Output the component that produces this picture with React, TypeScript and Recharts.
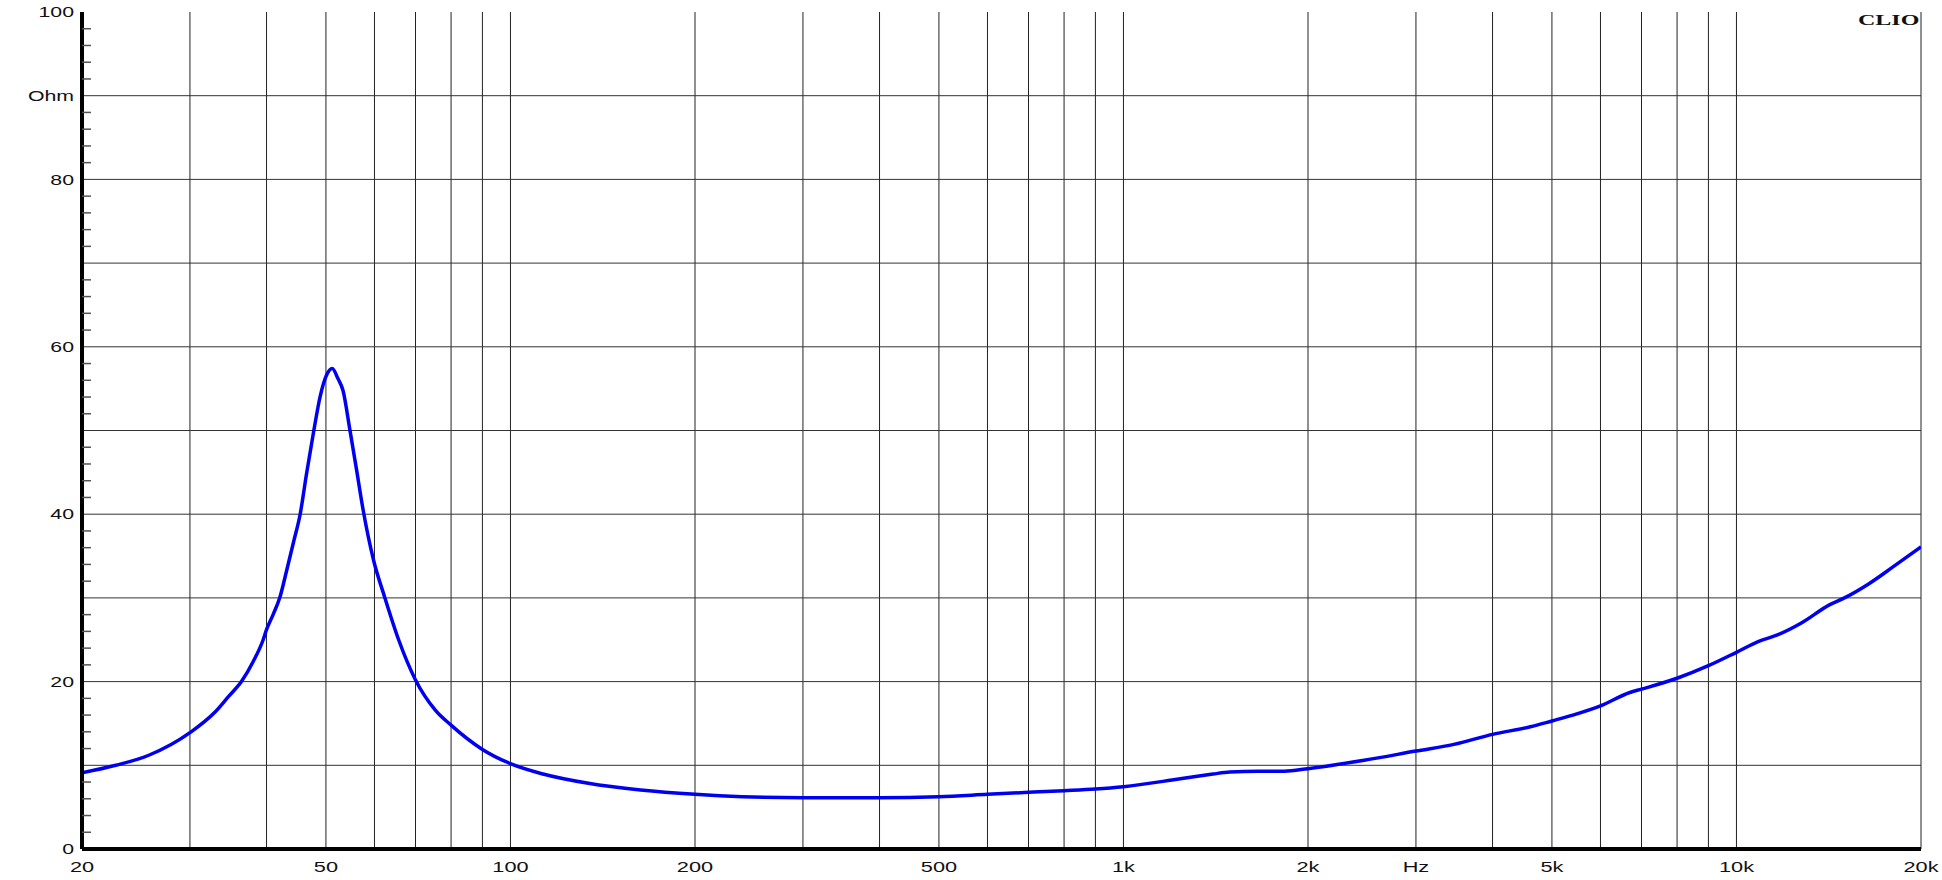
import React from 'react';
import { LineChart, Line, XAxis, YAxis, CartesianGrid, ReferenceLine } from 'recharts';

const freqHz = [
  20, 22.7, 25.7, 30, 33, 34.66, 36.4, 38.05, 39.5, 40, 41, 42.07, 43.15, 44.35, 45.36, 46.5, 47.7, 48.9,
  50.1, 51.2, 52.3, 53.3, 54.7, 56.1, 57.5, 59.8, 62.4, 65.7, 70, 75.4, 80, 90, 100, 113, 134, 163, 200,
  239, 300, 400, 500, 600, 700, 800, 900, 1000, 1200, 1320, 1400, 1490, 1660, 1830, 2000, 2470, 3000,
  3460, 4000, 4610, 5000, 5410, 6000, 6700, 7000, 8000, 9000, 10000, 10870, 11690, 12760, 14200, 15000,
  16450, 18000, 20000,
];
const impedanceOhm = [
  9.1, 10.0, 11.2, 13.9, 16.4, 18.2, 20.0, 22.4, 25.0, 26.2, 28.0, 30.1, 33.3, 36.9, 39.9, 44.9, 49.7, 54.0,
  56.6, 57.4, 56.2, 54.8, 50.1, 45.3, 40.5, 34.5, 30.0, 25.0, 20.2, 16.6, 14.8, 11.9, 10.2, 8.96, 7.85, 7.05, 6.53,
  6.25, 6.13, 6.13, 6.25, 6.53, 6.77, 6.97, 7.17, 7.45, 8.24, 8.7, 8.96, 9.2, 9.3, 9.3, 9.6, 10.6, 11.7,
  12.5, 13.7, 14.6, 15.3, 16.0, 17.1, 18.7, 19.1, 20.4, 21.9, 23.5, 24.8, 25.6, 27.0, 29.2, 30.0,
  31.7, 33.7, 36.1,
];

const xGridTicks = [
  20, 30, 40, 50, 60, 70, 80, 90, 100, 200, 300, 400, 500, 600, 700, 800, 900,
  1000, 2000, 3000, 4000, 5000, 6000, 7000, 8000, 9000, 10000, 20000,
];
const xTickLabels: Record<number, string> = {
  20: '20', 50: '50', 100: '100', 200: '200', 500: '500', 1000: '1k', 2000: '2k',
  3000: 'Hz', 5000: '5k', 10000: '10k', 20000: '20k',
};
const yMinorTicks = Array.from({ length: 51 }, (_, i) => i * 2);
const yGridValues = [10, 20, 30, 40, 50, 60, 70, 80, 90];
const yTickLabels: Record<number, string> = {
  0: '0', 20: '20', 40: '40', 60: '60', 80: '80', 90: 'Ohm', 100: '100',
};
const badge = 'CLIO';

const data = freqHz.map((f, i) => ({ f, z: impedanceOhm[i] }));

const FONT = "'Liberation Sans', Arial, sans-serif";

const LeftTick = (props: any) => {
  const { x, y, payload } = props;
  const v = payload.value as number;
  const label = yTickLabels[v];
  const minor = v % 10 !== 0;
  return (
    <g>
      {minor && <line x1={x} x2={x + 9} y1={y} y2={y} stroke="#555" strokeWidth={1.5} />}
      {label && (
        <g transform={`translate(${x - 8},${y}) scale(1.42,1)`}>
          <text x={0} y={0} textAnchor="end" dominantBaseline="central" fontFamily={FONT} fontSize={15} fill="#111">
            {label}
          </text>
        </g>
      )}
    </g>
  );
};

const RightTick = (props: any) => {
  const { x, y, payload } = props;
  const v = payload.value as number;
  const minor = v % 10 !== 0;
  return (
    <g>
      {minor && <line x1={x} x2={x - 9} y1={y} y2={y} stroke="#555" strokeWidth={1.5} />}
    </g>
  );
};

const BottomTick = (props: any) => {
  const { x, y, payload } = props;
  const label = xTickLabels[payload.value as number];
  if (!label) return <g />;
  return (
    <g transform={`translate(${x},${y + 18}) scale(1.45,1)`}>
      <text x={0} y={0} textAnchor="middle" dominantBaseline="central" fontFamily={FONT} fontSize={15} fill="#111">
        {label}
      </text>
    </g>
  );
};

export default function App() {
  return (
    <div style={{ position: 'absolute', left: 0, top: 0, width: 1942, height: 880, background: '#fff' }}>
      <LineChart width={1942} height={880} data={data} margin={{ top: 12, right: 21, bottom: 0, left: 12 }}>
        <XAxis
          xAxisId="x"
          dataKey="f"
          type="number"
          scale="log"
          domain={[20, 20000]}
          allowDataOverflow
          ticks={xGridTicks}
          interval={0}
          tickSize={0}
          tickMargin={0}
          tickLine={false}
          tick={<BottomTick />}
          height={31}
          axisLine={{ stroke: '#000', strokeWidth: 4 }}
        />
        <XAxis
          xAxisId="top"
          orientation="top"
          type="number"
          scale="log"
          domain={[20, 20000]}
          allowDataOverflow
          height={0}
          tick={false}
          tickLine={false}
          axisLine={{ stroke: '#000', strokeWidth: 4 }}
        />
        <YAxis
          yAxisId="left"
          type="number"
          domain={[0, 100]}
          ticks={yMinorTicks}
          interval={0}
          tickSize={0}
          tickMargin={0}
          tickLine={false}
          tick={<LeftTick />}
          width={70}
          axisLine={{ stroke: '#000', strokeWidth: 4 }}
        />
        <YAxis
          yAxisId="right"
          orientation="right"
          type="number"
          domain={[0, 100]}
          ticks={yMinorTicks}
          interval={0}
          tickSize={0}
          tickMargin={0}
          tickLine={false}
          tick={<RightTick />}
          width={0}
          axisLine={{ stroke: '#000', strokeWidth: 4 }}
        />
        <CartesianGrid xAxisId="x" yAxisId="left" horizontal={false} stroke="#222" strokeWidth={1} />
        {yGridValues.map((v) => (
          <ReferenceLine key={v} xAxisId="x" yAxisId="left" y={v} stroke="#333" strokeWidth={1} />
        ))}
        <Line
          xAxisId="x"
          yAxisId="left"
          dataKey="z"
          type="monotone"
          stroke="#0000f0"
          strokeWidth={3.5}
          dot={false}
          isAnimationActive={false}
        />
      </LineChart>
      <div
        style={{
          position: 'absolute',
          right: 23,
          top: 12,
          fontFamily: "'Liberation Serif', 'Times New Roman', serif",
          fontWeight: 'bold',
          fontSize: 15,
          lineHeight: '16px',
          color: '#111',
          transform: 'scaleX(1.6)',
          transformOrigin: 'right top',
        }}
      >
        {badge}
      </div>
    </div>
  );
}
